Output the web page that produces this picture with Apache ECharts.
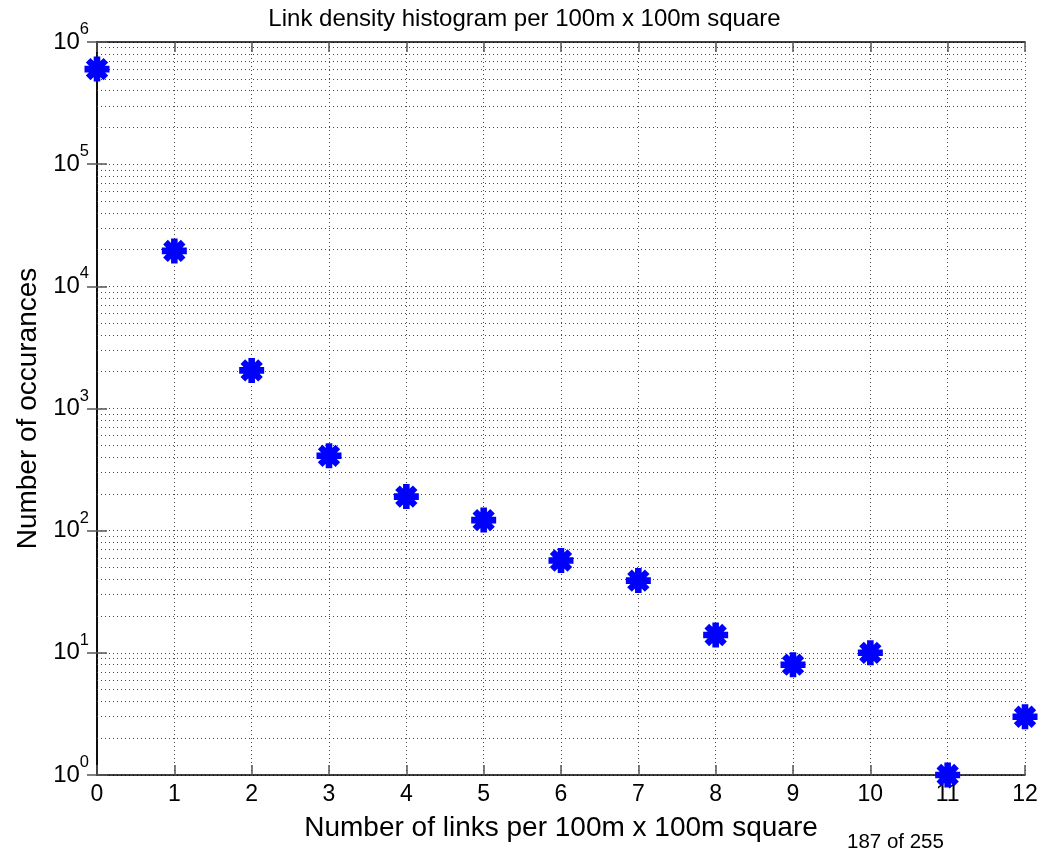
<!DOCTYPE html>
<html><head><meta charset="utf-8">
<script src="https://cdn.jsdelivr.net/npm/echarts@6/dist/echarts.min.js"></script>
<style>html,body{margin:0;padding:0;background:#fff}#c{width:1049px;height:852px}</style>
</head><body><div id="c"></div>
<script>
var titleText = 'Link density histogram per 100m x 100m square';
var xName = 'Number of links per 100m x 100m square';
var yName = 'Number of occurances';
var pageNote = '187 of 255';
var linkCounts = [0,1,2,3,4,5,6,7,8,9,10,11,12];
var occurrences = [600000,19500,2050,410,190,122,57,39,14,8,10,1,3];
var yMin = 1, yMax = 1000000;
var minorMultipliers = [2,3,4,5,6,7,8,9];

// asterisk marker path (style only)
function asteriskPath(L, w) {
  var p = '';
  for (var k = 0; k < 4; k++) {
    var a = k * Math.PI / 4, c = Math.cos(a), s = Math.sin(a);
    var pts = [[-L,-w],[L,-w],[L,w],[-L,w]].map(function(q){
      return [(q[0]*c - q[1]*s + 20).toFixed(3), (q[0]*s + q[1]*c + 20).toFixed(3)];
    });
    p += 'M' + pts[0].join(' ') + 'L' + pts[1].join(' ') + 'L' + pts[2].join(' ') + 'L' + pts[3].join(' ') + 'Z';
  }
  return 'path://' + p;
}

var minorLines = [];
for (var e = 0; e < 6; e++) {
  minorMultipliers.forEach(function(m){ minorLines.push({yAxis: m * Math.pow(10, e)}); });
}

var font = 'Liberation Sans, Arial, Helvetica, sans-serif';
var gridLine = {show:true, lineStyle:{color:'#444', type:[1,3], width:1}};
var chart = echarts.init(document.getElementById('c'), null, {renderer:'canvas'});
chart.setOption({
  animation:false,
  backgroundColor:'#fff',
  title:{text:titleText, left:'center', top:2, textStyle:{fontFamily:font, fontSize:24, fontWeight:'normal', color:'#000'}},
  graphic:[{type:'text', left:847, top:832, style:{text:pageNote, font:'20.5px ' + font, fill:'#000'}}],
  grid:{left:97, right:24, top:42, bottom:77},
  xAxis:[{
    type:'value', min:0, max:12, interval:1, position:'bottom',
    name:xName, nameLocation:'middle', nameGap:39,
    nameTextStyle:{fontFamily:font, fontSize:28, color:'#000'},
    axisLine:{show:true, onZero:false, lineStyle:{color:'#000', width:1.5}},
    axisTick:{show:true, inside:true, length:10, lineStyle:{color:'#555', width:1.5}},
    axisLabel:{fontFamily:font, fontSize:23, color:'#000', margin:8},
    splitLine:gridLine
  },{
    type:'value', min:0, max:12, interval:1, position:'top',
    axisLine:{show:true, onZero:false, lineStyle:{color:'#000', width:1.5}},
    axisTick:{show:true, inside:true, length:10, lineStyle:{color:'#555', width:1.5}},
    axisLabel:{show:false}, splitLine:{show:false}
  }],
  yAxis:[{
    type:'log', logBase:10, min:yMin, max:yMax, position:'left',
    name:yName, nameLocation:'middle', nameGap:51,
    nameTextStyle:{fontFamily:font, fontSize:28, color:'#000'},
    axisLine:{show:true, lineStyle:{color:'#000', width:1.5}},
    axisTick:{show:true, inside:true, length:10, lineStyle:{color:'#555', width:1.5}},
    axisLabel:{margin:8, color:'#000',
      formatter:function(v){ return '{b|10}{s|' + Math.round(Math.log10(v)) + '}'; },
      rich:{b:{fontFamily:font, fontSize:24, lineHeight:42, color:'#000'},
            s:{fontFamily:font, fontSize:16.5, lineHeight:16, verticalAlign:'top', color:'#000'}}},
    splitLine:gridLine
  },{
    type:'log', logBase:10, min:yMin, max:yMax, position:'right',
    axisLine:{show:true, lineStyle:{color:'#000', width:1.5}},
    axisTick:{show:true, inside:true, length:10, lineStyle:{color:'#555', width:1.5}},
    axisLabel:{show:false}, splitLine:{show:false}
  }],
  series:[{
    type:'scatter', xAxisIndex:0, yAxisIndex:0, clip:false,
    data:linkCounts.map(function(x,i){ return [x, occurrences[i]]; }),
    symbol:asteriskPath(19, 5), symbolSize:25,
    itemStyle:{color:'#0000ff', opacity:1},
    z:5,
    markLine:{silent:true, symbol:['none','none'], label:{show:false},
      lineStyle:{color:'#444', type:[1,3], width:1, opacity:1}, emphasis:{disabled:true},
      data:minorLines, z:1}
  }]
});
</script></body></html>
